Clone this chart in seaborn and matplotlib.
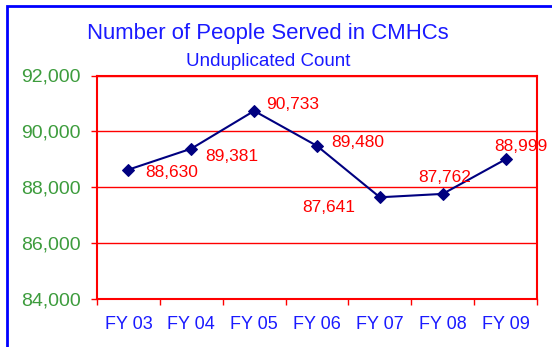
import matplotlib
matplotlib.use("Agg")
import matplotlib.pyplot as plt
from matplotlib.patches import Rectangle
from matplotlib.ticker import FixedLocator, FuncFormatter
import seaborn as sns
import pandas as pd

years = ["FY 03", "FY 04", "FY 05", "FY 06", "FY 07", "FY 08", "FY 09"]
served = [88630, 89381, 90733, 89480, 87641, 87762, 88999]
y_ticks = [84000, 86000, 88000, 90000, 92000]

# label offsets in pixels (dx, dy) and horizontal alignment per point
label_offsets = [(17, -3, "left"), (14, -8, "left"), (12, 6, "left"), (14, 3, "left"),
                 (-25, -10, "right"), (2, 16, "center"), (15, 13, "center")]

sns.set_theme(style="white")
plt.rcParams["font.family"] = ["Liberation Sans", "DejaVu Sans"]

BLUE = "#1a1aff"
RED = "#ff0000"
GREEN = "#3d9c3d"
NAVY = "#000080"

df = pd.DataFrame({"year": years, "served": served})

fig = plt.figure(figsize=(5.52, 3.47), dpi=100)
fig.patch.set_facecolor("white")
W, H = 552, 347
ax = fig.add_axes([97 / W, 1 - 299 / H, (537 - 97) / W, (299 - 75.5) / H])

sns.lineplot(data=df, x="year", y="served", ax=ax, color=NAVY, linewidth=1.5,
             marker="D", markersize=6, markeredgecolor=NAVY, markerfacecolor=NAVY,
             sort=False)

ax.set_ylim(84000, 92000)
ax.set_xlim(-0.5, len(years) - 0.5)
ax.set_yticks(y_ticks)
ax.yaxis.set_major_formatter(FuncFormatter(lambda v, p: f"{int(v):,}"))
ax.grid(axis="y", color=RED, linewidth=1)
ax.set_axisbelow(True)

ax.set_xticks(range(len(years)))
ax.set_xticklabels(years)
ax.xaxis.set_minor_locator(FixedLocator([i - 0.5 for i in range(len(years) + 1)]))
ax.tick_params(axis="x", which="major", length=0, pad=12, labelsize=13, labelcolor=BLUE)
ax.tick_params(axis="x", which="minor", length=4.5, width=1, color=RED, bottom=True)
ax.tick_params(axis="y", which="major", length=4.5, width=1, color=RED, left=True,
               labelsize=14, labelcolor=GREEN, pad=7)
ax.set_xlabel("")
ax.set_ylabel("")

for s in ax.spines.values():
    s.set_color(RED)
    s.set_linewidth(1.5)

for i, (v, (dx, dy, ha)) in enumerate(zip(served, label_offsets)):
    ax.annotate(f"{v:,}", (i, v), xytext=(dx, dy), textcoords="offset pixels",
                ha=ha, va="center", color=RED, fontsize=12.5)

fig.text(267.5 / W, 1 - 33 / H, "Number of People Served in CMHCs", ha="center",
         va="center", color=BLUE, fontsize=15.9)
fig.text(268 / W, 1 - 62 / H, "Unduplicated Count", ha="center", va="center",
         color=BLUE, fontsize=13.5)

fig.patches.append(Rectangle((7 / W, -0.1), 1.2, 1 - 6 / H + 0.1, transform=fig.transFigure,
                             fill=False, edgecolor="#0000ff", linewidth=2))

fig.savefig("out.png", dpi=100, facecolor="white")
